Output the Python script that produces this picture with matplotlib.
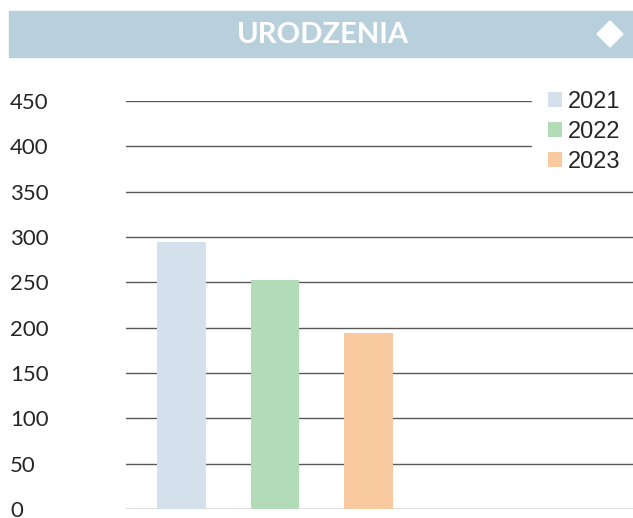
import matplotlib.pyplot as plt
from matplotlib.patches import Rectangle, Polygon

# dane z wykresu
lata = ['2021', '2022', '2023']
urodzenia = [294, 253, 194]
kolory = ['#d4e1ec', '#b2dbb8', '#f9c9a0']
y_ticks = [0, 50, 100, 150, 200, 250, 300, 350, 400, 450]

W, H = 633, 518
fig = plt.figure(figsize=(W / 100, H / 100), dpi=100)

# pasek tytulu
fig.patches.append(Rectangle((9 / W, 1 - 57 / H), 1 - 9 / W, 46 / H,
                             transform=fig.transFigure, color='#b8d0dc', zorder=0))
fig.text(323 / W, 1 - 35 / H, 'URODZENIA', family='Lato', weight='bold',
         fontsize=21, color='white', ha='center', va='center')
cx, cy, r = 610 / W, 1 - 34 / H, 13
fig.patches.append(Polygon([(cx - r / W, cy), (cx, cy + r / H), (cx + r / W, cy), (cx, cy - r / H)],
                           closed=True, transform=fig.transFigure, color='white'))

ax = fig.add_axes([126 / W, 9 / H, 507 / W, 408 / H])
x = range(len(lata))
for i in x:
    ax.bar(i, urodzenia[i], width=0.524, color=kolory[i], label=lata[i], zorder=3)

ax.set_xlim(-0.594, 4.83)
ax.set_ylim(0, 450)
ax.set_yticks(y_ticks)
ax.set_xticks([])
ax.yaxis.grid(True, color='#595959', linewidth=1.0, zorder=1)
for s in ['top', 'right', 'left', 'bottom']:
    ax.spines[s].set_visible(False)
ax.tick_params(axis='y', length=0, pad=83.5, labelsize=16, labelcolor='#262626')
for lab in ax.get_yticklabels():
    lab.set_ha('left')
    lab.set_family('Lato')

leg = fig.legend(loc='upper left', bbox_to_anchor=(532 / W, 1 - 75 / H), frameon=True,
                 fancybox=False, edgecolor='white', facecolor='white', framealpha=1,
                 prop={'family': 'Liberation Sans', 'size': 17},
                 handlelength=0.59, handleheight=0.59, handletextpad=0.25,
                 labelspacing=0.33, borderpad=0.68, borderaxespad=0)
for t in leg.get_texts():
    t.set_color('#262626')

fig.savefig('out.png', dpi=100)
